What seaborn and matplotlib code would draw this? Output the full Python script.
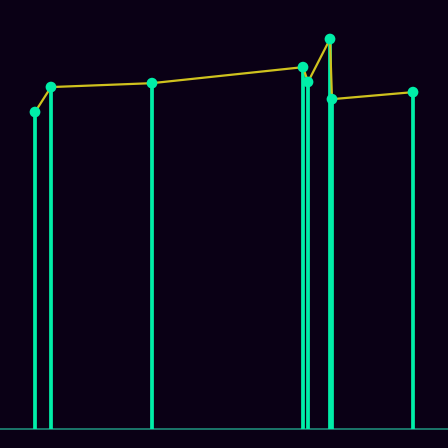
import matplotlib
matplotlib.use("Agg")
import matplotlib.pyplot as plt
import seaborn as sns
import pandas as pd

x_vals = [35, 51, 152, 303, 308, 330, 332, 413]
y_vals = [81.3, 87.7, 88.7, 92.8, 89.0, 100.0, 84.6, 86.4]

BG = "#0a0015"
STEM = "#00eea8"
LINE = "#cfc21e"

sns.set_style("dark")
df = pd.DataFrame({"x": x_vals, "y": y_vals})

fig = plt.figure(figsize=(4.48, 4.48), dpi=100, facecolor=BG)
ax = fig.add_axes([0, 0, 1, 1])
ax.set_facecolor(BG)

ax.axhline(0, color="#1f8a78", lw=1.2, zorder=1)
ax.vlines(df["x"], 0, df["y"], color=STEM, lw=2.7, zorder=2)
sns.lineplot(data=df, x="x", y="y", ax=ax, color=LINE, lw=1.6, zorder=3, sort=True)
sns.scatterplot(data=df, x="x", y="y", ax=ax, color=STEM, s=60, edgecolor="none", zorder=4)

ax.set_xlim(0, 448)
ax.set_ylim(-4.74, 110.0)
ax.set_xlabel("")
ax.set_ylabel("")
ax.set_xticks([])
ax.set_yticks([])
for s in ax.spines.values():
    s.set_visible(False)
ax.grid(False)

fig.savefig("out.png", dpi=100, facecolor=BG)
